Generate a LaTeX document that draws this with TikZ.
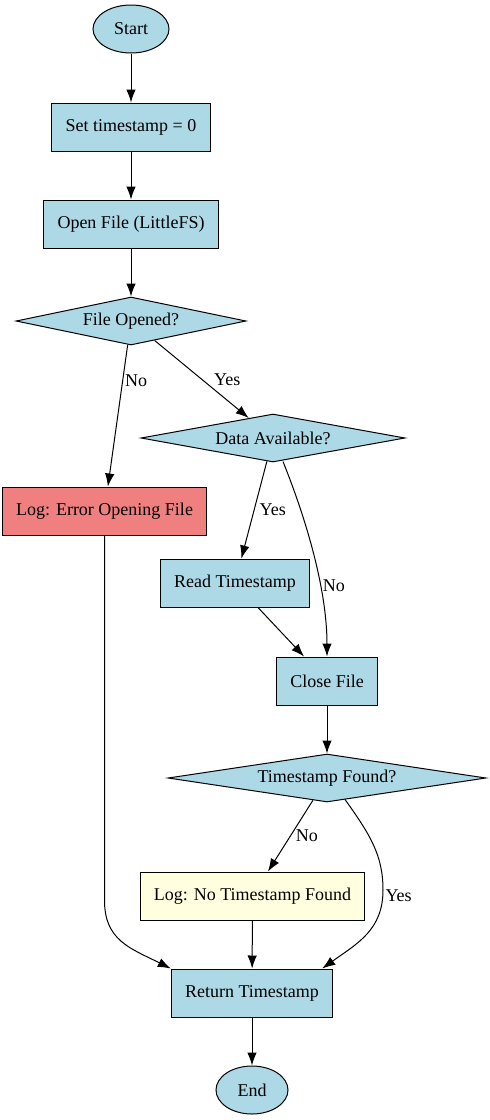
\documentclass[tikz,border=0pt]{standalone}
\usepackage{fontspec}
\setmainfont{Liberation Serif}
\usetikzlibrary{shapes.geometric,arrows.meta}

\definecolor{stepblue}{HTML}{ADD8E6}
\definecolor{errorred}{HTML}{F08080}
\definecolor{warnyellow}{HTML}{FFFFE0}

\newcommand{\flatlabel}[1]{\makebox[0pt]{#1}}

\tikzset{
    flow box/.style={
        draw,line width=1pt,fill=stepblue,
        minimum height=48pt,inner xsep=13.8pt,
        font=\fontsize{18}{22}\selectfont
    },
    flow check/.style={
        flow box,diamond,aspect=1,inner sep=0pt
    },
    flow end/.style={
        flow box,ellipse,inner sep=0pt
    },
    flow arrow/.style={
        line width=1pt,-{Latex[length=13pt,width=9.5pt]}
    },
    flow label/.style={
        font=\fontsize{18}{22}\selectfont,inner sep=2pt
    }
}

\begin{document}
\begin{tikzpicture}[x=1pt,y=-1pt]
        \useasboundingbox (0,0) rectangle (490,1120);
        % nodes, placed as in the layout
        \node[flow end,minimum width=76pt] (start) at (131,29) {Start};
        \node[flow box] (set) at (131,127) {Set timestamp = 0};
        \node[flow box] (open) at (131,224) {Open File (LittleFS)};
        \node[flow check,minimum width=230pt] (opened) at (131,321) {\flatlabel{File Opened?}};
        \node[flow check,minimum width=264pt] (avail) at (273,438) {\flatlabel{Data Available?}};
        \node[flow box,fill=errorred] (err) at (104.5,511) {Log: Error Opening File};
        \node[flow box] (read) at (235,583) {Read Timestamp};
        \node[flow box] (close) at (327,681) {Close File};
        \node[flow check,minimum width=318pt] (found) at (327,778) {\flatlabel{Timestamp Found?}};
        \node[flow box,fill=warnyellow] (notfound) at (252.5,896) {Log: No Timestamp Found};
        \node[flow box] (ret) at (252,993) {Return Timestamp};
        \node[flow end,minimum width=72pt] (end) at (252,1090) {End};
        % straight edges
        \foreach \a/\b in {start/set,set/open,open/opened,read/close,close/found,notfound/ret,ret/end}
            \draw[flow arrow] (\a) -- (\b);
        \draw[flow arrow] (opened) -- (err) node[flow label,pos=.25,anchor=west] {No};
        \draw[flow arrow] (opened) -- (avail) node[flow label,pos=.5,anchor=west,xshift=10pt] {Yes};
        \draw[flow arrow] (avail) -- (read) node[flow label,pos=.5,anchor=west,xshift=3pt] {Yes};
        \draw[flow arrow] (found) -- (notfound) node[flow label,pos=.5,anchor=west,xshift=3pt] {No};
        % curved edges
        \draw[flow arrow] ([xshift=10pt,yshift=1pt]avail.south) .. controls +(28,70) and +(0,-60) .. (close.north)
            node[flow label,pos=.62,anchor=west] {No};
        \draw[flow arrow] ([xshift=18pt,yshift=3pt]found.south) .. controls +(25,35) and +(0,-35) .. (383,890)
            node[flow label,anchor=west,yshift=-6pt] {Yes}
            .. controls +(0,40) and +(35,-25) .. ([xshift=-11pt]ret.north east);
        \draw[flow arrow] (err.south) -- ++(0,365) .. controls +(0,40) and +(-40,-20) .. (ret.north west);
    \end{tikzpicture}
\end{document}
